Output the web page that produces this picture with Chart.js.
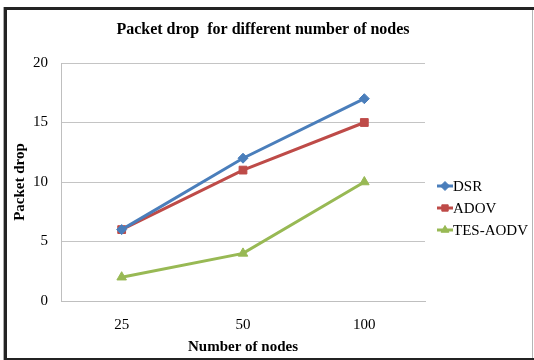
<!DOCTYPE html>
<html>
<head>
<meta charset="utf-8">
<script src="https://cdn.jsdelivr.net/npm/chart.js@4/dist/chart.umd.min.js"></script>
<style>
  html, body { margin: 0; padding: 0; background: #fff; }
  #wrap { position: relative; width: 534px; height: 360px; }
</style>
</head>
<body>
<div id="wrap"><canvas id="c" width="534" height="360"></canvas></div>
<script>
// Packet drop per routing protocol, by number of nodes
const nodeCounts = ['25', '50', '100'];
const dsrDrop = [6, 12, 17];
const adovDrop = [6, 11, 15];
const tesAodvDrop = [2, 4, 10];
const yTicks = [0, 5, 10, 15, 20];

const seriesNames = ['DSR', 'ADOV', 'TES-AODV'];
const seriesColors = ['#4A7EBB', '#BE4B48', '#98B954'];
const seriesMarkers = ['rectRot', 'rect', 'triangle'];
const seriesValues = [dsrDrop, adovDrop, tesAodvDrop];

const SERIF = '"Liberation Serif", "Times New Roman", serif';

// Outer frame, title and legend are painted on the canvas around the plot
const framePlugin = {
  id: 'frame',
  beforeDraw(chart) {
    const ctx = chart.ctx;
    ctx.save();
    ctx.fillStyle = '#fff';
    ctx.fillRect(0, 0, chart.width, chart.height);
    ctx.fillStyle = '#aaa';
    ctx.fillRect(3, 7, 1, 353);
    ctx.fillStyle = '#232323';
    ctx.fillRect(4, 7, 3, 353);
    ctx.fillRect(4, 7, 530, 3);
    ctx.fillRect(4, 358, 530, 2);
    ctx.fillStyle = '#b5b5b5';
    ctx.fillRect(532, 10, 1, 348);
    ctx.restore();
  },
  afterDraw(chart) {
    const ctx = chart.ctx;
    ctx.save();
    // title
    ctx.fillStyle = '#000';
    ctx.font = 'bold 16px ' + SERIF;
    ctx.textAlign = 'center';
    ctx.textBaseline = 'middle';
    ctx.fillText('Packet drop  for different number of nodes', 263, 30);
    // legend
    ctx.font = '15px ' + SERIF;
    ctx.textAlign = 'left';
    seriesNames.forEach((name, i) => {
      const y = 186 + i * 22;
      ctx.strokeStyle = seriesColors[i];
      ctx.lineWidth = 3;
      ctx.beginPath();
      ctx.moveTo(437, y);
      ctx.lineTo(453, y);
      ctx.stroke();
      ctx.fillStyle = seriesColors[i];
      ctx.lineWidth = 1;
      Chart.helpers.drawPoint(ctx, {
        pointStyle: seriesMarkers[i],
        radius: 4.5,
        borderWidth: 1
      }, 445, y);
      ctx.fillStyle = '#000';
      ctx.fillText(name, 453, y + 1);
    });
    ctx.restore();
  }
};

new Chart(document.getElementById('c'), {
  type: 'line',
  data: {
    labels: nodeCounts,
    datasets: seriesValues.map((vals, i) => ({
      label: seriesNames[i],
      data: vals,
      borderColor: seriesColors[i],
      backgroundColor: seriesColors[i],
      borderWidth: 3,
      pointStyle: seriesMarkers[i],
      pointRadius: i === 0 ? 5 : 5.5,
      pointBorderWidth: 1,
      tension: 0
    }))
  },
  options: {
    responsive: false,
    animation: false,
    layout: { padding: { top: 63, right: 109, left: 0, bottom: 0 } },
    plugins: {
      legend: { display: false },
      title: { display: false },
      tooltip: { enabled: false }
    },
    scales: {
      x: {
        offset: true,
        grid: { display: false, drawTicks: false },
        border: { display: true, color: '#bfbfbf', width: 1 },
        ticks: { color: '#000', font: { family: SERIF, size: 15 }, padding: 15 },
        title: {
          display: true,
          text: 'Number of nodes',
          color: '#000',
          font: { family: SERIF, size: 15, weight: 'bold' },
          padding: { top: 6, bottom: 4 }
        },
        afterFit(scale) { scale.height = 59; }
      },
      y: {
        min: 0,
        max: 20,
        afterBuildTicks(scale) { scale.ticks = yTicks.map(v => ({ value: v })); },
        grid: { color: '#c4c4c4', lineWidth: 1, drawTicks: false },
        border: { display: true, color: '#bfbfbf', width: 1 },
        ticks: { color: '#000', font: { family: SERIF, size: 15 }, padding: 13 },
        title: {
          display: true,
          text: 'Packet drop',
          color: '#000',
          font: { family: SERIF, size: 15, weight: 'bold' },
          padding: { top: 11, bottom: 0 }
        },
        afterFit(scale) { scale.width = 61; }
      }
    }
  },
  plugins: [framePlugin]
});
</script>
</body>
</html>
